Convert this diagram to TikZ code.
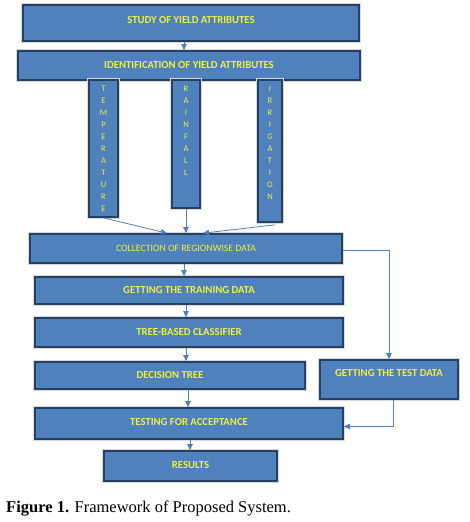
\documentclass[tikz,border=0pt]{standalone}
\usepackage{fontspec}
\setmainfont{Liberation Serif}
\newfontfamily\boxfont{Carlito}
\usetikzlibrary{arrows.meta}
\definecolor{boxblue}{RGB}{79,129,189}
\definecolor{boxedge}{RGB}{37,64,97}
\definecolor{txtyel}{RGB}{240,240,60}
\definecolor{lineblue}{RGB}{79,129,189}
\begin{document}
\begin{tikzpicture}[x=1pt,y=-1pt,
  box/.style={preaction={draw=black!15,line width=3.2pt},draw=boxedge,line width=1.7pt,fill=boxblue,text=txtyel,
    font=\boxfont\bfseries\fontsize{10.7}{12}\selectfont,inner sep=0pt},
  vbox/.style={box},
  vtxt/.style={text=txtyel,font=\boxfont\fontsize{8.5}{12}\selectfont,align=center,anchor=north,inner sep=0pt},
  conn/.style={draw=lineblue,line width=0.8pt,-{Triangle[length=6pt,width=5.5pt]}},
  link/.style={draw=lineblue,line width=0.8pt}]
\useasboundingbox (0,0) rectangle (470,522);
% boxes
\node[box,minimum width=336pt,minimum height=36pt,text depth=6pt] (study) at (191,23) {STUDY OF YIELD ATTRIBUTES};
\node[box,minimum width=342pt,minimum height=29pt] (ident) at (189,65.5) {IDENTIFICATION OF YIELD ATTRIBUTES};
\node[vbox,minimum width=29pt,minimum height=137pt] (temp) at (103.5,148.5) {};
\node[vbox,minimum width=28pt,minimum height=128pt] (rain) at (186,144) {};
\node[vbox,minimum width=24pt,minimum height=142pt] (irr) at (270,151) {};
\node[vtxt] (tempt) at ([yshift=-7]temp.north) {T\\E\\M\\P\\E\\R\\A\\T\\U\\R\\E};
\node[vtxt] (raint) at ([yshift=-7]rain.north) {R\\A\\I\\N\\F\\A\\L\\L};
\node[vtxt] (irrt) at ([yshift=-7]irr.north) {I\\R\\R\\I\\G\\A\\T\\I\\O\\N};
\node[box,minimum width=312pt,minimum height=29pt,font=\boxfont\fontsize{9.8}{11}\selectfont] (coll) at (186,248.5) {COLLECTION OF REGIONWISE DATA};
\node[box,minimum width=308pt,minimum height=27pt] (train) at (189,290.5) {GETTING THE TRAINING DATA};
\node[box,minimum width=308pt,minimum height=29pt] (tree) at (189,332.5) {TREE-BASED CLASSIFIER};
\node[box,minimum width=270pt,minimum height=27pt] (dec) at (170,375.5) {DECISION TREE};
\node[box,minimum width=138pt,minimum height=39pt,text height=7pt,text depth=14pt] (test) at (389,379.5) {GETTING THE TEST DATA};
\node[box,minimum width=308pt,minimum height=31pt,text depth=3pt] (accept) at (189,423.5) {TESTING FOR ACCEPTANCE};
\node[box,minimum width=173pt,minimum height=30pt,text depth=2pt] (res) at (190.5,466) {RESULTS};
% caption
\node[anchor=base west,inner sep=0pt,font=\fontsize{16.5}{18}\selectfont] (cap) at (6,512) {\textbf{Figure 1.} Framework of Proposed System.};
% connectors
\draw[conn] ([xshift=-7pt]study.south) -- ([xshift=-7pt]study.south |- ident.north);
\draw[conn] (temp.south) -- ([xshift=-19pt]coll.north);
\draw[conn] (rain.south) -- (coll.north);
\draw[conn] ([xshift=5pt,yshift=-2pt]irr.south) -- ([xshift=17pt]coll.north);
\draw[conn] ([xshift=-2pt]coll.south) -- ([xshift=-2pt]coll.south |- train.north);
\draw[conn] ([xshift=-3pt]train.south) -- ([xshift=-3pt]train.south |- tree.north);
\draw[conn] ([xshift=-3pt]tree.south) -- ([xshift=-3pt]tree.south |- dec.north);
\draw[conn] ([xshift=18pt]dec.south) -- ([xshift=18pt]dec.south |- accept.north);
\draw[conn] ([xshift=1pt]accept.south) -- ([xshift=1pt]accept.south |- res.north);
\draw[conn] ([yshift=-2pt]coll.east) -| (test.north);
\draw[conn] ([xshift=4pt]test.south) |- ([yshift=-3pt]accept.east);
\end{tikzpicture}
\end{document}
